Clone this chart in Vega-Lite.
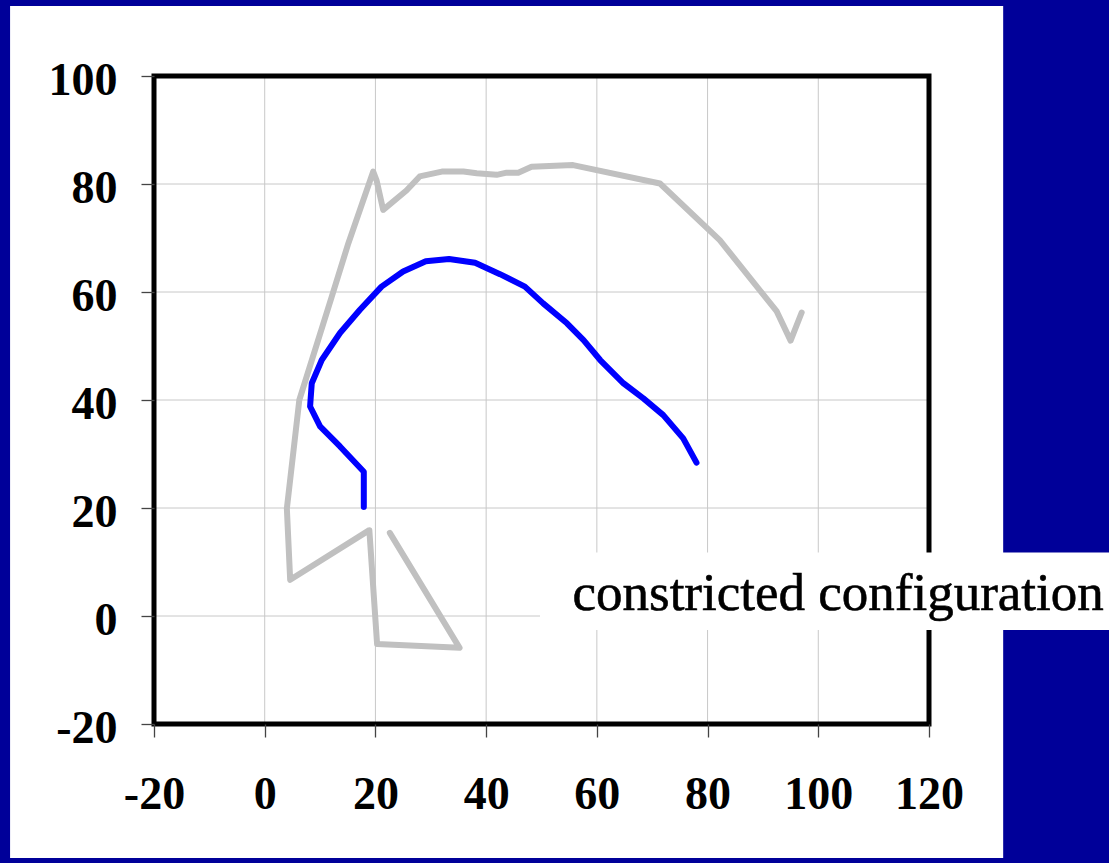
{
  "$schema": "https://vega.github.io/schema/vega-lite/v6.json",
  "autosize": {"type": "none"},
  "width": 775,
  "height": 648,
  "padding": {"left": 154, "top": 76, "right": 180, "bottom": 139},
  "background": "#000099",
  "config": {
    "view": {"stroke": null},
    "axis": {
      "grid": false,
      "domain": false,
      "ticks": true,
      "tickSize": 13,
      "tickColor": "#444444",
      "tickWidth": 1.3,
      "labelFont": "Liberation Serif",
      "labelFontSize": 46,
      "labelFontWeight": "bold",
      "labelColor": "#000000",
      "labelFlush": false,
      "labelOverlap": false,
      "labelBound": false,
      "labelExpr": "'' + datum.value"
    },
    "axisX": {"labelPadding": 35},
    "axisY": {"labelPadding": 24, "labelOffset": 4}
  },
  "datasets": {
    "panel": [{"x0": -46, "x1": 133.4, "y0": -44.8, "y1": 112.96}],
    "frame": [{"x0": -20, "x1": 120, "y0": -20, "y1": 100}],
    "gridx": [{"x": -20}, {"x": 0}, {"x": 20}, {"x": 40}, {"x": 60}, {"x": 80}, {"x": 100}, {"x": 120}],
    "gridy": [{"y": -20}, {"y": 0}, {"y": 20}, {"y": 40}, {"y": 60}, {"y": 80}, {"y": 100}],
    "grey": [
      {"i": 1, "x": 22.6, "y": 15.4},
      {"i": 2, "x": 35.2, "y": -5.9},
      {"i": 3, "x": 20.3, "y": -5.2},
      {"i": 4, "x": 18.9, "y": 15.9},
      {"i": 5, "x": 4.6, "y": 6.7},
      {"i": 6, "x": 4.0, "y": 19.9},
      {"i": 7, "x": 6.25, "y": 40.0},
      {"i": 8, "x": 12.1, "y": 59.1},
      {"i": 9, "x": 15.1, "y": 69.0},
      {"i": 10, "x": 19.6, "y": 82.3},
      {"i": 11, "x": 20.2, "y": 80.7},
      {"i": 12, "x": 21.4, "y": 75.2},
      {"i": 13, "x": 25.6, "y": 78.8},
      {"i": 14, "x": 28.0, "y": 81.4},
      {"i": 15, "x": 32.0, "y": 82.3},
      {"i": 16, "x": 35.9, "y": 82.3},
      {"i": 17, "x": 38.3, "y": 82.0},
      {"i": 18, "x": 41.9, "y": 81.7},
      {"i": 19, "x": 43.7, "y": 82.1},
      {"i": 20, "x": 45.8, "y": 82.1},
      {"i": 21, "x": 48.2, "y": 83.2},
      {"i": 22, "x": 55.7, "y": 83.5},
      {"i": 23, "x": 71.4, "y": 80.1},
      {"i": 24, "x": 82.2, "y": 69.6},
      {"i": 25, "x": 92.5, "y": 56.4},
      {"i": 26, "x": 95.0, "y": 51.0},
      {"i": 27, "x": 97.0, "y": 56.2}
    ],
    "blue": [
      {"i": 1, "x": 17.9, "y": 20.2},
      {"i": 2, "x": 17.9, "y": 26.7},
      {"i": 3, "x": 13.6, "y": 31.4},
      {"i": 4, "x": 10.0, "y": 35.1},
      {"i": 5, "x": 8.2, "y": 38.8},
      {"i": 6, "x": 8.3, "y": 40.3},
      {"i": 7, "x": 8.5, "y": 43.1},
      {"i": 8, "x": 10.3, "y": 47.4},
      {"i": 9, "x": 13.6, "y": 52.4},
      {"i": 10, "x": 17.2, "y": 56.7},
      {"i": 11, "x": 21.1, "y": 61.0},
      {"i": 12, "x": 25.0, "y": 63.8},
      {"i": 13, "x": 29.1, "y": 65.7},
      {"i": 14, "x": 33.3, "y": 66.1},
      {"i": 15, "x": 38.0, "y": 65.4},
      {"i": 16, "x": 42.5, "y": 63.3},
      {"i": 17, "x": 47.0, "y": 61.0},
      {"i": 18, "x": 50.3, "y": 57.9},
      {"i": 19, "x": 54.6, "y": 54.2},
      {"i": 20, "x": 57.6, "y": 51.1},
      {"i": 21, "x": 60.6, "y": 47.4},
      {"i": 22, "x": 64.8, "y": 43.1},
      {"i": 23, "x": 68.4, "y": 40.3},
      {"i": 24, "x": 72.0, "y": 37.2},
      {"i": 25, "x": 75.6, "y": 32.9},
      {"i": 26, "x": 78.0, "y": 28.4}
    ],
    "box": [{"x0": 49.73, "x1": 170, "y0": -2.59, "y1": 11.76}],
    "label": [{"x": 55.6, "y": 1.11, "text": "constricted configuration"}]
  },
  "layer": [
    {
      "data": {"name": "panel"},
      "mark": {"type": "rect", "fill": "#ffffff", "stroke": null},
      "encoding": {
        "x": {"field": "x0", "type": "quantitative", "title": null,
              "scale": {"domain": [-20, 120], "nice": false, "zero": false},
              "axis": {"values": [-20, 0, 20, 40, 60, 80, 100, 120], "zindex": 1}},
        "x2": {"field": "x1"},
        "y": {"field": "y0", "type": "quantitative", "title": null,
              "scale": {"domain": [-20, 100], "nice": false, "zero": false},
              "axis": {"values": [-20, 0, 20, 40, 60, 80, 100], "zindex": 1}},
        "y2": {"field": "y1"}
      }
    },
    {
      "data": {"name": "gridx"},
      "mark": {"type": "rule", "color": "#c8c8c8", "strokeWidth": 1},
      "encoding": {"x": {"field": "x", "type": "quantitative", "title": null}}
    },
    {
      "data": {"name": "gridy"},
      "mark": {"type": "rule", "color": "#c8c8c8", "strokeWidth": 1},
      "encoding": {"y": {"field": "y", "type": "quantitative", "title": null}}
    },
    {
      "data": {"name": "frame"},
      "mark": {"type": "rect", "fill": null, "filled": false, "stroke": "#000000", "strokeWidth": 5},
      "encoding": {
        "x": {"field": "x0", "type": "quantitative", "title": null},
        "x2": {"field": "x1"},
        "y": {"field": "y0", "type": "quantitative", "title": null},
        "y2": {"field": "y1"}
      }
    },
    {
      "data": {"name": "grey"},
      "mark": {"type": "line", "color": "#c0c0c0", "strokeWidth": 6, "strokeCap": "round", "strokeJoin": "round"},
      "encoding": {
        "x": {"field": "x", "type": "quantitative", "title": null},
        "y": {"field": "y", "type": "quantitative", "title": null},
        "order": {"field": "i", "type": "quantitative"}
      }
    },
    {
      "data": {"name": "blue"},
      "mark": {"type": "line", "color": "#0000ff", "strokeWidth": 6, "strokeCap": "round", "strokeJoin": "round"},
      "encoding": {
        "x": {"field": "x", "type": "quantitative", "title": null},
        "y": {"field": "y", "type": "quantitative", "title": null},
        "order": {"field": "i", "type": "quantitative"}
      }
    },
    {
      "data": {"name": "box"},
      "mark": {"type": "rect", "fill": "#ffffff", "stroke": null},
      "encoding": {
        "x": {"field": "x0", "type": "quantitative", "title": null},
        "x2": {"field": "x1"},
        "y": {"field": "y0", "type": "quantitative", "title": null},
        "y2": {"field": "y1"}
      }
    },
    {
      "data": {"name": "label"},
      "mark": {"type": "text", "align": "left", "baseline": "alphabetic", "font": "Liberation Serif", "fontSize": 53, "color": "#000000", "stroke": "#000000", "strokeWidth": 0.6},
      "encoding": {
        "x": {"field": "x", "type": "quantitative", "title": null},
        "y": {"field": "y", "type": "quantitative", "title": null},
        "text": {"field": "text", "type": "nominal"}
      }
    }
  ]
}
